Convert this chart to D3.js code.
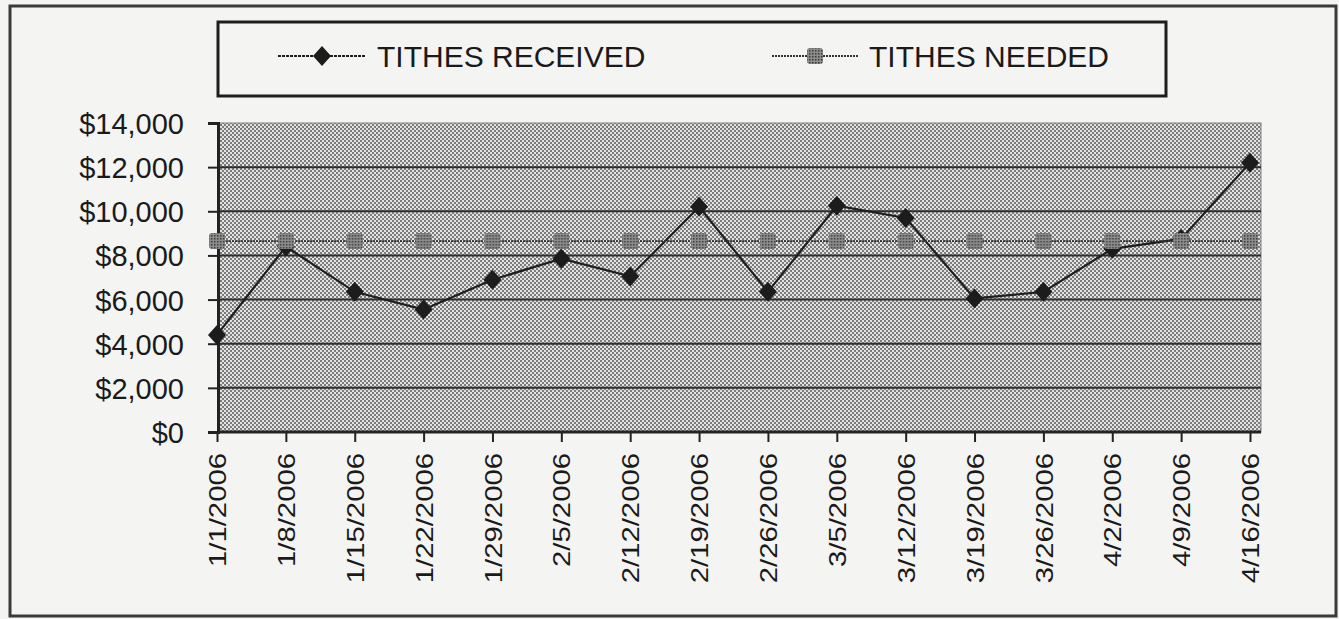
<!DOCTYPE html>
<html>
<head>
<meta charset="utf-8">
<script src="https://cdn.jsdelivr.net/npm/d3@7"></script>
<style>
  body { margin: 0; background: #f4f4f3; }
  svg { display: block; font-family: "Liberation Sans", Arial, sans-serif; }
</style>
</head>
<body>
<script>
// chart values
const dates = ["1/1/2006", "1/8/2006", "1/15/2006", "1/22/2006", "1/29/2006", "2/5/2006",
  "2/12/2006", "2/19/2006", "2/26/2006", "3/5/2006", "3/12/2006", "3/19/2006",
  "3/26/2006", "4/2/2006", "4/9/2006", "4/16/2006"];
const received = [4400, 8400, 6350, 5550, 6900, 7850, 7050, 10200, 6350, 10250, 9700, 6050, 6350, 8300, 8750, 12200];
const needed = [8650, 8650, 8650, 8650, 8650, 8650, 8650, 8650, 8650, 8650, 8650, 8650, 8650, 8650, 8650, 8650];
const yTicks = [0, 2000, 4000, 6000, 8000, 10000, 12000, 14000];
const seriesNames = ["TITHES RECEIVED", "TITHES NEEDED"];

const W = 1339, H = 619;
const plot = {left: 218, right: 1261, top: 123, bottom: 432};

const svg = d3.select("body").append("svg")
    .attr("width", W)
    .attr("height", H);

const defs = svg.append("defs");

// halftone background of the plot area
const bg = defs.append("pattern")
    .attr("id", "dots")
    .attr("width", 4).attr("height", 4)
    .attr("patternUnits", "userSpaceOnUse");
bg.append("rect").attr("width", 4).attr("height", 4).attr("fill", "#e2e2e2");
bg.append("rect").attr("width", 2).attr("height", 2).attr("fill", "#7c7c7c");
bg.append("rect").attr("x", 2).attr("y", 2).attr("width", 2).attr("height", 2).attr("fill", "#7c7c7c");

// hatched fill for the "needed" markers
const hatch = defs.append("pattern")
    .attr("id", "hatch")
    .attr("width", 3).attr("height", 3)
    .attr("patternUnits", "userSpaceOnUse");
hatch.append("rect").attr("width", 3).attr("height", 3).attr("fill", "#8c8c8c");
hatch.append("rect").attr("width", 1.5).attr("height", 1.5).attr("fill", "#3c3c3c");

// outer frame
svg.append("rect")
    .attr("x", 10).attr("y", 6)
    .attr("width", 1326).attr("height", 610)
    .attr("fill", "none")
    .attr("stroke", "#3a3a3a")
    .attr("stroke-width", 3);

const x = d3.scalePoint()
    .domain(dates)
    .range([217, 1250]);

const y = d3.scaleLinear()
    .domain([0, 14000])
    .range([plot.bottom, plot.top]);

// plot area
svg.append("rect")
    .attr("x", plot.left).attr("y", plot.top)
    .attr("width", plot.right - plot.left)
    .attr("height", plot.bottom - plot.top)
    .attr("fill", "url(#dots)")
    .attr("stroke", "#808080")
    .attr("stroke-width", 1);

// gridlines
svg.append("g")
    .selectAll("line")
    .data(yTicks.filter(d => d > 0 && d < 14000))
    .enter().append("line")
        .attr("x1", plot.left).attr("x2", plot.right)
        .attr("y1", d => y(d)).attr("y2", d => y(d))
        .attr("stroke", "#2e2e2e")
        .attr("stroke-width", 2);

// y axis
const yAxis = svg.append("g")
    .attr("transform", `translate(${plot.left},0)`)
    .call(d3.axisLeft(y).tickValues(yTicks).tickSize(10).tickPadding(24)
        .tickFormat(d => "$" + d3.format(",")(d)));
yAxis.select(".domain").attr("stroke", "#222").attr("stroke-width", 3);
yAxis.selectAll(".tick line").attr("stroke", "#222").attr("stroke-width", 2);
yAxis.selectAll("text")
    .attr("fill", "#1a1a1a")
    .style("font-size", "29px")
    .attr("dy", "0.36em");

// x axis
const xAxis = svg.append("g")
    .attr("transform", `translate(0,${plot.bottom})`)
    .call(d3.axisBottom(x).tickSize(10).tickSizeOuter(0));
xAxis.select(".domain").attr("stroke", "#222").attr("stroke-width", 3)
    .attr("d", `M${plot.left},0H${plot.right}`);
xAxis.selectAll(".tick line").attr("stroke", "#222").attr("stroke-width", 2);
xAxis.selectAll("text")
    .attr("fill", "#1a1a1a")
    .style("font-size", "24px")
    .attr("text-anchor", "end")
    .attr("transform", "rotate(-90)")
    .attr("x", -21)
    .attr("y", 0)
    .attr("dy", "0.36em")
    .each(function() {
        const w = this.getComputedTextLength();
        d3.select(this).attr("textLength", w * 1.22).attr("lengthAdjust", "spacingAndGlyphs");
    });

// received line
const line = d3.line()
    .x((d, i) => x(dates[i]))
    .y(d => y(d));

const diamond = "M0,-10L9,0L0,10L-9,0Z";
const square = "M-8,-5Q-8,-8 -5,-8L5,-8Q8,-8 8,-5L8,5Q8,8 5,8L-5,8Q-8,8 -8,5Z";

svg.append("path")
    .datum(received)
    .attr("d", line)
    .attr("fill", "none")
    .attr("stroke", "#1e1e1e")
    .attr("stroke-width", 2.2);

svg.append("g")
    .selectAll("path")
    .data(received)
    .enter().append("path")
        .attr("d", diamond)
        .attr("transform", (d, i) => `translate(${x(dates[i])},${y(d)})`)
        .attr("fill", "#1c1c1c");

// needed line on top
svg.append("path")
    .datum(needed)
    .attr("d", line)
    .attr("fill", "none")
    .attr("stroke", "#333")
    .attr("stroke-width", 1.6)
    .attr("stroke-dasharray", "2,1");

svg.append("g")
    .selectAll("path")
    .data(needed)
    .enter().append("path")
        .attr("d", square)
        .attr("transform", (d, i) => `translate(${x(dates[i])},${y(d)})`)
        .attr("fill", "url(#hatch)");

// legend
const legend = svg.append("g");
legend.append("rect")
    .attr("x", 218).attr("y", 22)
    .attr("width", 948).attr("height", 74)
    .attr("fill", "#f4f4f3")
    .attr("stroke", "#1e1e1e")
    .attr("stroke-width", 3);

const legendItems = [
    {name: seriesNames[0], x0: 278, x1: 366, mark: diamond, fill: "#1c1c1c", stroke: "#1e1e1e", dash: "3,1", tx: 377},
    {name: seriesNames[1], x0: 772, x1: 858, mark: square, fill: "url(#hatch)", stroke: "#333", dash: "2,1", tx: 869}
];
const ly = 56;
const li = legend.selectAll(".item").data(legendItems).enter().append("g");
li.append("line")
    .attr("x1", d => d.x0).attr("x2", d => d.x1)
    .attr("y1", ly).attr("y2", ly)
    .attr("stroke", d => d.stroke)
    .attr("stroke-width", 2)
    .attr("stroke-dasharray", d => d.dash);
li.append("path")
    .attr("d", d => d.mark)
    .attr("transform", d => `translate(${(d.x0 + d.x1) / 2},${ly})`)
    .attr("fill", d => d.fill);
li.append("text")
    .attr("x", d => d.tx)
    .attr("y", ly)
    .attr("dy", "0.36em")
    .attr("fill", "#1a1a1a")
    .style("font-size", "30px")
    .text(d => d.name);
</script>
</body>
</html>
